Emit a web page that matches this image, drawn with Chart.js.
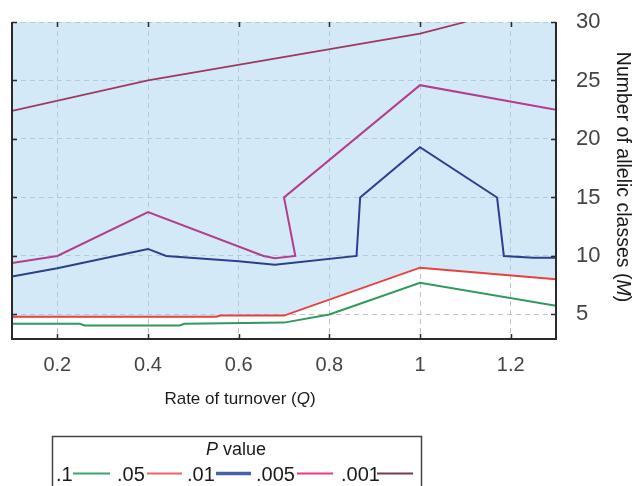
<!DOCTYPE html>
<html><head><meta charset="utf-8">
<script src="https://cdn.jsdelivr.net/npm/chart.js@4"></script>
<style>html,body{margin:0;padding:0;background:#fff;overflow:hidden}#wrap{width:634px;height:486px;position:relative}</style>
</head><body><div id="wrap"><canvas id="c" width="634" height="486"></canvas></div>
<script>
// ---- data ----
const pLabels = ['.1', '.05', '.01', '.005', '.001'];
// P = .1
const q_p1   = [0.10, 0.25, 0.26, 0.47, 0.48, 0.70, 0.80, 1.00, 1.30];
const m_p1   = [4.20, 4.20, 4.05, 4.05, 4.20, 4.30, 5.00, 7.70, 5.75];
// P = .05
const q_p05  = [0.10, 0.55, 0.56, 0.70, 1.00, 1.30];
const m_p05  = [4.80, 4.80, 4.90, 4.90, 9.00, 8.00];
// P = .01
const q_p01  = [0.10, 0.20, 0.40, 0.44, 0.60, 0.68, 0.86, 0.868, 1.00, 1.17, 1.185, 1.25, 1.30];
const m_p01  = [8.25, 8.95, 10.6, 10.0, 9.55, 9.25, 10.0, 15.0, 19.3, 15.0, 10.0, 9.85, 9.85];
// P = .005
const q_p005 = [0.10, 0.20, 0.40, 0.655, 0.68, 0.725, 0.70, 1.00, 1.30];
const m_p005 = [9.40, 10.0, 13.75, 10.0, 9.80, 10.0, 15.0, 24.6, 22.5];
// P = .001
const q_p001 = [0.10, 0.40, 1.00, 1.10];
const m_p001 = [22.4, 25.0, 29.0, 30.0];

const xTickValues = [0.2, 0.4, 0.6, 0.8, 1.0, 1.2];
const xTickLabels = ['0.2', '0.4', '0.6', '0.8', '1', '1.2'];
const yTickValues = [5, 10, 15, 20, 25, 30];
const yTickLabels = ['5', '10', '15', '20', '25', '30'];

const lineColors   = ['#2f9a5c', '#e8403e', '#2c3f8e', '#b23f8c', '#9e3a5e'];
const lineWidths   = [2, 2, 2, 2, 1.8];
const legendColors = ['#3aa86c', '#f0606c', '#4262aa', '#f0358c', '#7a3a48'];
const legendWidths = [2, 2, 3.5, 2, 2];

const FONT = "'Liberation Sans', Arial, sans-serif";

function pts(qs, ms) { return qs.map((q, i) => ({x: q, y: ms[i]})); }
const seriesQ = [q_p1, q_p05, q_p01, q_p005, q_p001];
const seriesM = [m_p1, m_p05, m_p01, m_p005, m_p001];

const datasets = pLabels.map((lab, i) => ({
  label: lab,
  data: pts(seriesQ[i], seriesM[i]),
  borderColor: lineColors[i],
  borderWidth: lineWidths[i],
  pointRadius: 0,
  tension: 0,
  fill: false,
  order: i === 1 ? 5 : 0
}));
// shaded region above the .05 line
datasets[1].fill = 'end';
datasets[1].backgroundColor = 'rgba(168,212,240,0.5)';

function richText(ctx, parts, cx, cy, size) {
  let total = 0;
  parts.forEach(p => { ctx.font = (p[1] ? 'italic ' : '') + size + 'px ' + FONT; p.w = ctx.measureText(p[0]).width; total += p.w; });
  let x = cx - total / 2;
  ctx.textBaseline = 'middle';
  ctx.textAlign = 'left';
  parts.forEach(p => { ctx.font = (p[1] ? 'italic ' : '') + size + 'px ' + FONT; ctx.fillText(p[0], x, cy); x += p.w; });
}

const decor = {
  id: 'decor',
  afterDraw(chart) {
    const ctx = chart.ctx, a = chart.chartArea;
    const xs = chart.scales.x, ys = chart.scales.y;
    ctx.save();
    // frame
    ctx.strokeStyle = '#2a2a2a';
    ctx.lineWidth = 2;
    ctx.beginPath();
    ctx.moveTo(a.left, a.top); ctx.lineTo(a.left, a.bottom); ctx.lineTo(a.right, a.bottom); ctx.lineTo(a.right, a.top);
    ctx.stroke();
    // inward tick marks
    ctx.lineWidth = 1.5;
    ctx.beginPath();
    xTickValues.forEach(v => {
      const px = Math.round(xs.getPixelForValue(v)) + 0.5;
      ctx.moveTo(px, a.top); ctx.lineTo(px, a.top + 5);
      ctx.moveTo(px, a.bottom); ctx.lineTo(px, a.bottom - 5);
    });
    yTickValues.forEach(v => {
      const py = Math.round(ys.getPixelForValue(v)) + 0.5;
      ctx.moveTo(a.left, py); ctx.lineTo(a.left + 5, py);
      ctx.moveTo(a.right, py); ctx.lineTo(a.right - 5, py);
    });
    ctx.stroke();
    // axis titles
    ctx.fillStyle = '#1a1a1a';
    richText(ctx, [['Rate of turnover ('], ['Q', true], [')']], 240, 399, 17);
    ctx.save();
    ctx.translate(622, 177);
    ctx.rotate(Math.PI / 2);
    richText(ctx, [['Number of allelic classes ('], ['M', true], [')']], 0, 0, 19.5);
    ctx.restore();
    // legend box
    ctx.strokeStyle = '#444';
    ctx.lineWidth = 1.5;
    ctx.strokeRect(52.5, 436.5, 369, 70);
    ctx.fillStyle = '#1a1a1a';
    richText(ctx, [['P', true], [' value']], 236, 450, 18);
    const textX = [56, 117, 187, 256, 341];
    const lineX = [[73, 110], [147, 182], [216, 251], [297, 333], [377, 413]];
    pLabels.forEach((lab, i) => {
      ctx.font = '20px ' + FONT;
      ctx.textAlign = 'left';
      ctx.textBaseline = 'middle';
      ctx.fillStyle = '#1a1a1a';
      ctx.fillText(lab, textX[i], 475);
      ctx.strokeStyle = legendColors[i];
      ctx.lineWidth = legendWidths[i];
      ctx.beginPath();
      ctx.moveTo(lineX[i][0], 473.5); ctx.lineTo(lineX[i][1], 473.5);
      ctx.stroke();
    });
    ctx.restore();
  }
};

new Chart(document.getElementById('c'), {
  type: 'line',
  data: { datasets },
  options: {
    responsive: false,
    animation: false,
    devicePixelRatio: 1,
    normalized: false,
    layout: { padding: { left: 12, top: 22, right: 0, bottom: 0 } },
    plugins: { legend: { display: false }, tooltip: { enabled: false }, filler: { propagate: false } },
    scales: {
      x: {
        type: 'linear', position: 'bottom', min: 0.1, max: 1.3,
        afterBuildTicks: s => { s.ticks = xTickValues.map(v => ({ value: v })); },
        afterFit: s => { s.height = 147; s.paddingLeft = 0; s.paddingRight = 0; },
        ticks: {
          padding: 14, autoSkip: false, maxRotation: 0,
          color: '#444', font: { family: FONT, size: 20 },
          callback: (v) => { const i = xTickValues.indexOf(v); return i >= 0 ? xTickLabels[i] : ''; }
        },
        grid: { color: '#bcc2cc', lineWidth: 1, drawTicks: false },
        border: { display: false, dash: [5, 4] }
      },
      y: {
        type: 'linear', position: 'right', min: 2.9, max: 30,
        afterBuildTicks: s => { s.ticks = yTickValues.map(v => ({ value: v })); },
        afterFit: s => { s.width = 78; s.paddingTop = 0; s.paddingBottom = 0; },
        ticks: {
          padding: 20,
          color: '#444', font: { family: FONT, size: 22 },
          callback: (v) => { const i = yTickValues.indexOf(v); return i >= 0 ? yTickLabels[i] : ''; }
        },
        grid: { color: '#bcc2cc', lineWidth: 1, drawTicks: false },
        border: { display: false, dash: [5, 4] }
      }
    }
  },
  plugins: [decor]
});
</script></body></html>
